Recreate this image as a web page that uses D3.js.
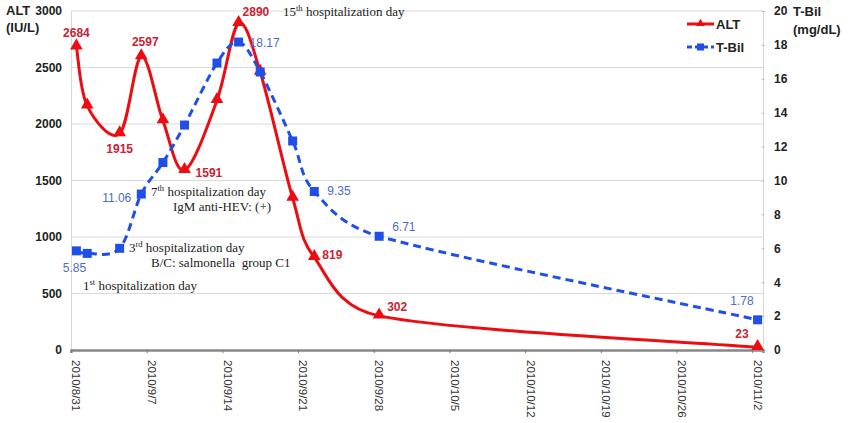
<!DOCTYPE html>
<html><head><meta charset="utf-8">
<script src="https://cdn.jsdelivr.net/npm/d3@7"></script>
<style>body{margin:0;background:#fff}svg{display:block}</style>
</head><body>
<svg id="c" width="850" height="423"></svg>
<script>
// ---- data ----
const dates = ["2010-08-31","2010-09-01","2010-09-04","2010-09-06","2010-09-08","2010-09-10","2010-09-13","2010-09-15","2010-09-17","2010-09-20","2010-09-22","2010-09-28","2010-11-02"];
const altValues = [2684,2160,1915,2597,2030,1591,2210,2890,2460,1345,819,302,23];
const tbilValues = [5.85,5.7,6.0,9.2,11.06,13.27,16.93,18.17,16.4,12.33,9.35,6.71,1.78];
const tickDates = ["2010-08-31","2010-09-07","2010-09-14","2010-09-21","2010-09-28","2010-10-05","2010-10-12","2010-10-19","2010-10-26","2010-11-02"];
const tickLabels = ["2010/8/31","2010/9/7","2010/9/14","2010/9/21","2010/9/28","2010/10/5","2010/10/12","2010/10/19","2010/10/26","2010/11/2"];
const altTicks = [0,500,1000,1500,2000,2500,3000];
const tbilTicks = [0,2,4,6,8,10,12,14,16,18,20];
const altLabelIdx = [0,2,3,5,7,10,11,12];
const altLabelText = ["2684","1915","2597","1591","2890","819","302","23"];
const tbilLabelIdx = [0,3,7,10,11,12];
const tbilLabelText = ["5.85","11.06","18.17","9.35","6.71","1.78"];
const notes = [
  {pre:"15",sup:"th",post:" hospitalization day"},
  {pre:"7",sup:"th",post:" hospitalization day"},
  {pre:"IgM anti-HEV: (+)",sup:"",post:""},
  {pre:"3",sup:"rd",post:" hospitalization day"},
  {pre:"B/C: salmonella  group C1",sup:"",post:""},
  {pre:"1",sup:"st",post:" hospitalization day"}
];

// ---- layout / style (not data) ----
const altLabelPos = [[0,-10,"middle"],[0,19,"middle"],[4,-11,"middle"],[11,7,"start"],[4,-7,"start"],[8,2,"start"],[8,-5,"start"],[-9,-9,"end"]];
const tbilLabelPos = [[-2,21,"middle"],[-10,8,"end"],[11,5,"start"],[13,3,"start"],[13,-5,"start"],[-4,-15,"end"]];
const notePos = [[283,16],[151,196],[173,211],[129,252],[151,267],[83,290]];

const parse = d3.utcParse("%Y-%m-%d");
const HALF = 12*3600*1000;
const svg = d3.select("#c");
const L = 71, R = 763, T = 11, B = 350;
const x = d3.scaleUtc().domain([parse("2010-08-31"), parse("2010-11-03")]).range([L, R]);
const yL = d3.scaleLinear().domain([0,3000]).range([B, T]);
const yR = d3.scaleLinear().domain([0,20]).range([B, T]);
const px = d => x(new Date(parse(d).getTime()+HALF));

const RED = "#ec0c12", RED_T = "#cc2233", BLUE = "#1f4fe6", BLUE_T = "#4a6ccc";
const SANS = "Liberation Sans, Arial, sans-serif", SERIF = "Liberation Serif, Times New Roman, serif";

// Excel-like smoothing: uniform Catmull-Rom bezier with control arms clamped to half the adjacent chord
function smoothPath(pts) {
  const p = d3.path(), n = pts.length, k = 0.5;
  const len = (a,b) => Math.hypot(b[0]-a[0], b[1]-a[1]);
  const tan = i => {
    const a = pts[Math.max(0,i-1)], b = pts[Math.min(n-1,i+1)];
    return [(b[0]-a[0])/6, (b[1]-a[1])/6];
  };
  const clamp = (t, lim) => { const l = Math.hypot(t[0],t[1]); const s = l > lim ? lim/l : 1; return [t[0]*s, t[1]*s]; };
  p.moveTo(pts[0][0], pts[0][1]);
  for (let i = 0; i < n-1; i++) {
    const a = pts[i], b = pts[i+1], c = len(a,b)*k;
    const t1 = clamp(tan(i), c), t2 = clamp(tan(i+1), c);
    p.bezierCurveTo(a[0]+t1[0], a[1]+t1[1], b[0]-t2[0], b[1]-t2[1], b[0], b[1]);
  }
  return p.toString();
}

// gridlines
svg.append("g").selectAll("line").data(altTicks.filter(v=>v>0)).join("line")
  .attr("x1", L).attr("x2", R).attr("y1", d=>yL(d)).attr("y2", d=>yL(d))
  .attr("stroke", "#d9d9d9").attr("stroke-width", 1);

// left axis
const gl = svg.append("g").attr("transform", `translate(${L},0)`)
  .call(d3.axisLeft(yL).tickValues(altTicks).tickFormat(d3.format("d")).tickSize(0).tickPadding(9));
gl.select(".domain").attr("stroke", "#d9d9d9");
gl.selectAll("text").attr("font-family", SANS).attr("font-size", 12).attr("font-weight", "bold").attr("fill", "#222");

// right axis
const gr = svg.append("g").attr("transform", `translate(${R},0)`)
  .call(d3.axisRight(yR).tickValues(tbilTicks).tickFormat(d3.format("d")).tickSize(3).tickPadding(8));
gr.select(".domain").attr("stroke", "#d9d9d9");
gr.selectAll(".tick line").attr("stroke", "#bbb").attr("transform", "translate(-1.5,0)");
gr.selectAll("text").attr("font-family", SANS).attr("font-size", 12).attr("font-weight", "bold").attr("fill", "#222");

// bottom axis
const gb = svg.append("g").attr("transform", `translate(0,${B})`)
  .call(d3.axisBottom(x).tickValues(tickDates.map(parse)).tickSize(3).tickFormat(""));
gb.select(".domain").attr("stroke", "#888").attr("stroke-width", 2.5);
gb.selectAll(".tick line").attr("stroke", "#777");
svg.append("g").selectAll("text").data(tickDates).join("text")
  .attr("transform", (d)=>`translate(${px(d)},${B+10}) rotate(90)`)
  .attr("dy", "0.35em").attr("text-anchor", "start")
  .attr("font-family", SANS).attr("font-size", 11.5).attr("fill", "#333")
  .text((d,i)=>tickLabels[i]);

// axis titles
const title = (tx, ty, t) => svg.append("text").attr("x", tx).attr("y", ty).text(t)
  .attr("font-family", SANS).attr("font-size", 13).attr("font-weight", "bold").attr("fill", "#222");
title(6, 15, "ALT"); title(6, 32, "(IU/L)");
title(793, 16, "T-Bil"); title(793, 34, "(mg/dL)");

// lines
const altPts = altValues.map((v,i)=>[px(dates[i]), yL(v)]);
const tbilPts = tbilValues.map((v,i)=>[px(dates[i]), yR(v)]);

svg.append("path").attr("d", smoothPath(altPts))
  .attr("fill", "none").attr("stroke", RED).attr("stroke-width", 3);
const tri = d3.symbol().type(d3.symbolTriangle).size(70);
svg.append("g").selectAll("path").data(altValues).join("path")
  .attr("d", tri).attr("transform", (d,i)=>`translate(${px(dates[i])},${yL(d)-1})`).attr("fill", RED);

svg.append("path").attr("d", smoothPath(tbilPts))
  .attr("fill", "none").attr("stroke", BLUE).attr("stroke-width", 3).attr("stroke-dasharray", "8,5");
svg.append("g").selectAll("rect").data(tbilValues).join("rect")
  .attr("x", (d,i)=>px(dates[i])-4.5).attr("y", d=>yR(d)-4.5).attr("width", 9).attr("height", 9).attr("fill", BLUE);

// data labels
svg.append("g").selectAll("text").data(altLabelIdx).join("text")
  .attr("x", (d,k)=>px(dates[d])+altLabelPos[k][0]).attr("y", (d,k)=>yL(altValues[d])+altLabelPos[k][1])
  .attr("text-anchor", (d,k)=>altLabelPos[k][2])
  .attr("font-family", SANS).attr("font-size", 12).attr("font-weight", "bold").attr("fill", RED_T)
  .text((d,k)=>altLabelText[k]);
svg.append("g").selectAll("text").data(tbilLabelIdx).join("text")
  .attr("x", (d,k)=>px(dates[d])+tbilLabelPos[k][0]).attr("y", (d,k)=>yR(tbilValues[d])+tbilLabelPos[k][1])
  .attr("text-anchor", (d,k)=>tbilLabelPos[k][2])
  .attr("font-family", SANS).attr("font-size", 12).attr("fill", BLUE_T)
  .text((d,k)=>tbilLabelText[k]);

// annotations
notes.forEach((n,i)=>{
  const t = svg.append("text").attr("x", notePos[i][0]).attr("y", notePos[i][1])
    .attr("font-family", SERIF).attr("font-size", 13).attr("fill", "#222").attr("xml:space","preserve");
  t.append("tspan").text(n.pre);
  if (n.sup) t.append("tspan").attr("dy", -5).attr("font-size", 8.5).text(n.sup);
  if (n.post) t.append("tspan").attr("dy", n.sup ? 5 : 0).text(n.post);
});

// legend
const lg = svg.append("g");
lg.append("line").attr("x1", 687).attr("x2", 714).attr("y1", 24).attr("y2", 24).attr("stroke", RED).attr("stroke-width", 3);
lg.append("path").attr("d", d3.symbol().type(d3.symbolTriangle).size(30)).attr("transform", "translate(700.5,23.5)").attr("fill", RED);
lg.append("text").attr("x", 716).attr("y", 29).text("ALT").attr("font-family", SANS).attr("font-size", 13).attr("font-weight", "bold").attr("fill", "#222");
lg.append("line").attr("x1", 687).attr("x2", 714).attr("y1", 47).attr("y2", 47).attr("stroke", BLUE).attr("stroke-width", 3).attr("stroke-dasharray", "5,3");
lg.append("rect").attr("x", 697).attr("y", 43.5).attr("width", 7).attr("height", 7).attr("fill", BLUE);
lg.append("text").attr("x", 716).attr("y", 52).text("T-Bil").attr("font-family", SANS).attr("font-size", 13).attr("font-weight", "bold").attr("fill", "#222");
</script>
</body></html>
